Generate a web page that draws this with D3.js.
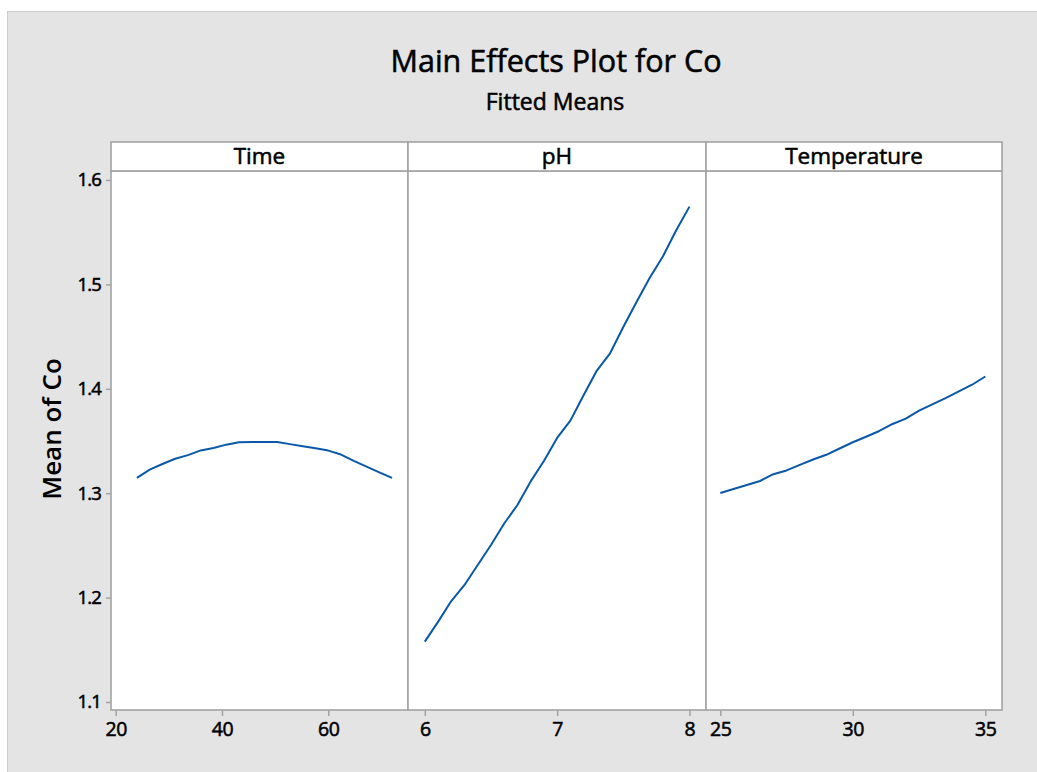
<!DOCTYPE html>
<html>
<head>
<meta charset="utf-8">
<script src="https://cdn.jsdelivr.net/npm/d3@7"></script>
<style>
  body { margin: 0; background: #ffffff; }
  svg { display: block; }
  text { font-family: "Open Sans", "Noto Sans", sans-serif; fill: #000; }
  .medium { stroke: #000; stroke-width: 0.55px; paint-order: stroke; }
</style>
</head>
<body>
<script>
// Fitted means of Co for each factor (main effects)
const factors = ["Time", "pH", "Temperature"];

const timeLevels = [24, 26.4, 28.8, 31.2, 33.6, 36, 38.4, 40.8, 43.2, 45.6, 48,
                    50.4, 52.8, 55.2, 57.6, 60, 62.4, 64.8, 67.2, 69.6, 72];
const timeMeans  = [1.3146, 1.3225, 1.3280, 1.3330, 1.3365, 1.3410, 1.3433, 1.3465, 1.3488, 1.3490, 1.3490,
                    1.3490, 1.3470, 1.3450, 1.3430, 1.3408, 1.3370, 1.3310, 1.3255, 1.3200, 1.3146];

const phLevels = [6.0, 6.1, 6.2, 6.3, 6.4, 6.5, 6.6, 6.7, 6.8, 6.9, 7.0,
                  7.1, 7.2, 7.3, 7.4, 7.5, 7.6, 7.7, 7.8, 7.9, 8.0];
const phMeans  = [1.1578, 1.1768, 1.1967, 1.2121, 1.2312, 1.2504, 1.2710, 1.2887, 1.3113, 1.3308, 1.3529,
                  1.3695, 1.3939, 1.4175, 1.4340, 1.4592, 1.4831, 1.5064, 1.5269, 1.5519, 1.5745];

const tempLevels = [25, 25.5, 26, 26.5, 27, 27.5, 28, 28.5, 29, 29.5, 30,
                    30.5, 31, 31.5, 32, 32.5, 33, 33.5, 34, 34.5, 35];
const tempMeans  = [1.3002, 1.3040, 1.3079, 1.3117, 1.3182, 1.3218, 1.3272, 1.3323, 1.3368, 1.3428, 1.3488,
                    1.3541, 1.3596, 1.3663, 1.3714, 1.3791, 1.3851, 1.3910, 1.3975, 1.4039, 1.4118];

const yTicks    = [1.1, 1.2, 1.3, 1.4, 1.5, 1.6];
const timeTicks = [20, 40, 60];
const phTicks   = [6, 7, 8];
const tempTicks = [25, 30, 35];

const W = 1037, H = 772;
const svg = d3.select("body").append("svg").attr("width", W).attr("height", H);

// outer chart frame
svg.append("rect")
  .attr("x", 7.5).attr("y", 11.5).attr("width", W).attr("height", H)
  .attr("fill", "#e4e4e4").attr("stroke", "#cdcdcd").attr("stroke-width", 1);

// titles
svg.append("text").attr("class", "medium").attr("x", 556).attr("y", 72).attr("text-anchor", "middle")
  .style("font-size", "30.5px").text("Main Effects Plot for Co");
svg.append("text").attr("class", "medium").attr("x", 555).attr("y", 110).attr("text-anchor", "middle")
  .style("font-size", "23px").text("Fitted Means");

// panel geometry
const plotTop = 171, plotBottom = 710, headTop = 142;
const panelEdges = [111, 408, 706, 1002];

const y = d3.scaleLinear().domain([1.1, 1.6]).range([702, 180]);

const panels = [
  { name: factors[0], levels: timeLevels, means: timeMeans, ticks: timeTicks, domain: [19.12, 75.0] },
  { name: factors[1], levels: phLevels,   means: phMeans,   ticks: phTicks,   domain: [5.873, 8.125] },
  { name: factors[2], levels: tempLevels, means: tempMeans, ticks: tempTicks, domain: [24.46, 35.63] }
];

const borderColor = "#a3a3a3";
const tickFont = "'Open Sans', 'Noto Sans', sans-serif";

panels.forEach((p, i) => {
  const x0 = panelEdges[i], x1 = panelEdges[i + 1];
  const x = d3.scaleLinear().domain(p.domain).range([x0, x1]);
  const g = svg.append("g");

  // plot area
  g.append("rect").attr("x", x0).attr("y", plotTop)
    .attr("width", x1 - x0).attr("height", plotBottom - plotTop)
    .attr("fill", "#ffffff").attr("stroke", borderColor).attr("stroke-width", 1.6);

  // strip header
  g.append("rect").attr("x", x0).attr("y", headTop)
    .attr("width", x1 - x0).attr("height", plotTop - headTop)
    .attr("fill", "#ffffff").attr("stroke", borderColor).attr("stroke-width", 1.6);
  g.append("text").attr("class", "medium").attr("x", (x0 + x1) / 2).attr("y", 163.5)
    .attr("text-anchor", "middle").style("font-size", "22.5px").text(p.name);

  // x axis
  const xa = g.append("g").attr("transform", `translate(0,${plotBottom})`)
    .call(d3.axisBottom(x).tickValues(p.ticks).tickSize(6).tickPadding(6).tickFormat(d3.format("d")));
  xa.select(".domain").remove();
  xa.selectAll(".tick line").attr("stroke", borderColor).attr("stroke-width", 1.5);
  xa.selectAll(".tick text").attr("class", "medium").style("font-size", "19.5px")
    .style("font-family", tickFont).style("letter-spacing", "-0.4px").attr("fill", "#000");

  // fitted means line
  const line = d3.line().x((d, k) => x(p.levels[k])).y(d => y(d));
  g.append("path").datum(p.means).attr("d", line)
    .attr("fill", "none").attr("stroke", "#0a58a8").attr("stroke-width", 2)
    .attr("stroke-linejoin", "round");
});

// y axis on the first panel
const ya = svg.append("g").attr("transform", `translate(${panelEdges[0]},0)`)
  .call(d3.axisLeft(y).tickValues(yTicks).tickSize(5).tickPadding(5).tickFormat(d3.format(".1f")));
ya.select(".domain").remove();
ya.selectAll(".tick line").attr("stroke", borderColor).attr("stroke-width", 1.5);
ya.selectAll(".tick text").attr("class", "medium").style("font-size", "18.5px")
  .style("font-family", tickFont).style("letter-spacing", "-0.8px").attr("fill", "#000");

svg.append("text").attr("transform", "translate(61,429) rotate(-90)")
  .attr("text-anchor", "middle").style("font-size", "26px").style("font-weight", 600)
  .text("Mean of Co");
</script>
</body>
</html>
